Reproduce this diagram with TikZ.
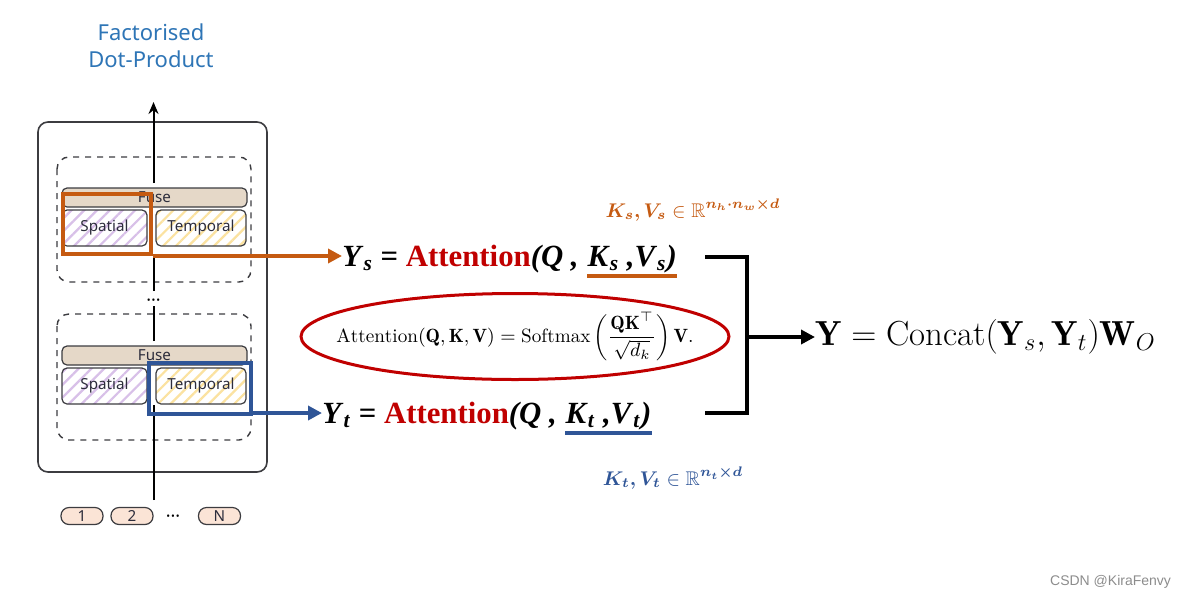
\RequirePackage{fix-cm}
\documentclass[tikz,border=0pt]{standalone}
\usepackage{fontspec}
\usepackage{amsmath,amssymb,bm}
\usetikzlibrary{arrows.meta, positioning, calc, patterns.meta}
\newfontfamily\lblfont{Noto Sans}
\newfontfamily\eqfont{Liberation Serif}
\newfontfamily\markfont{Liberation Sans}
\definecolor{ttlC}    {RGB}{ 46, 117, 182}
\definecolor{spselC}  {RGB}{197,  90,  17}
\definecolor{tpselC}  {RGB}{ 47,  85, 151}
\definecolor{attC}    {RGB}{192,   0,   0}
\definecolor{fuseC}   {RGB}{229, 216, 200}
\definecolor{tokC}    {RGB}{251, 228, 214}
\definecolor{spC}     {RGB}{216, 192, 232}
\definecolor{tpC}     {RGB}{251, 226, 160}
\definecolor{lineC}   {RGB}{ 60,  60,  64}
\definecolor{lblC}    {RGB}{ 45,  45,  60}

\begin{document}
\begin{tikzpicture}[x=0.5pt, y=-0.5pt,
  blk/.style={draw=lineC, line width=0.6pt, rounded corners=2.5pt, inner sep=0pt,
    font=\lblfont\fontsize{7.6}{9}\selectfont, text=lblC},
  spblk/.style={blk, minimum width=42.5pt, minimum height=18pt, preaction={fill=white},
    pattern={Lines[angle=45, distance=4.5pt, line width=1.1pt]}, pattern color=spC},
  tpblk/.style={blk, minimum width=45pt, minimum height=18pt, preaction={fill=white},
    pattern={Lines[angle=45, distance=4.5pt, line width=1.1pt]}, pattern color=tpC},
  fuseblk/.style={blk, fill=fuseC, minimum width=92.5pt, minimum height=9.5pt},
  tok/.style={blk, fill=tokC, rounded corners=4pt, minimum width=21pt, minimum height=8.5pt},
  dotlbl/.style={font=\lblfont\bfseries\fontsize{9}{9}\selectfont, inner sep=0pt},
  eqtxt/.style={font=\eqfont\bfseries\fontsize{15.4}{18}\selectfont, inner sep=0pt},
  brk/.style={line width=2pt, black}
]
\useasboundingbox (0,0) rectangle (1192,600);

% ============================================================
% LEFT — factorised dot-product encoder block
% ============================================================

% Title
\node[font=\lblfont\fontsize{11}{13.5}\selectfont, text=ttlC, align=center]
  (title) at (151,46) {Factorised\\Dot-Product};

% Outer box and layer boxes
\draw[lineC, line width=0.8pt, rounded corners=5pt] (38,122) rectangle (267,472);
\draw[lineC, line width=0.7pt, dashed, rounded corners=6pt] (57,157) rectangle (251,282);
\draw[lineC, line width=0.7pt, dashed, rounded corners=6pt] (57,314) rectangle (251,440);

% Backbone
\coordinate (bbot) at (153.5,500);
\coordinate (btop) at (153.5,102);
\draw[black, line width=1pt] (bbot) -- (153.5,405);
\draw[black, line width=1pt] (153.5,341) -- (153.5,306);
\draw[black, line width=1pt] (153.5,291) -- (153.5,255);
\draw[black, line width=1pt, -{Stealth[length=6pt, width=5pt]}] (153.5,183) -- (btop);
\node[dotlbl] (vdots) at (153.5,303) {···};

% Upper layer
\node[fuseblk] (fuseA) at (154.5,197.5) {Fuse};
\node[spblk]   (spA)   at (104.5,228) {Spatial};
\node[tpblk]   (tpA)   at (201,228) {Temporal};

% Lower layer
\node[fuseblk] (fuseB) at (154.5,355.5) {Fuse};
\node[spblk]   (spB)   at (104.5,386) {Spatial};
\node[tpblk]   (tpB)   at (201,386) {Temporal};

% Input tokens
\foreach \x/\lbl/\nm in {82/1/tokA, 132/2/tokB, 219.5/N/tokN}{
  \node[tok] (\nm) at (\x,516) {\lbl};
}
\node[dotlbl] (hdots) at (173,519) {···};

% Selections
\node[draw=spselC, line width=2pt, minimum width=44pt, minimum height=30pt, inner sep=0pt]
  (spsel) at (107,224) {};
\node[draw=tpselC, line width=2pt, minimum width=51pt, minimum height=25.5pt, inner sep=0pt]
  (tpsel) at (200,388.5) {};

% ============================================================
% MIDDLE — attention equations
% ============================================================

% Spatial attention
\node[eqtxt, anchor=base west] (ysl) at (342,266)
  {\textit{Y}\textsubscript{\textit{s}} = \textcolor{attC}{Attention}\textit{(Q ,}};
\node[eqtxt, anchor=base west] (ysk) at ($(ysl.base east)+(8,0)$)
  {\textit{K}\textsubscript{\textit{s}}\textit{ ,V}\textsubscript{\textit{s}}\textit{)}};
\draw[spselC, line width=2pt] ($(ysk.south west)+(0,3)$) -- ($(ysk.south east)+(0,3)$);
\node[font=\fontsize{9.9}{12}\selectfont, text=spselC] (kslbl) at (693,210)
  {$\bm{K_s, V_s} \in \mathbb{R}^{\bm{n_h\cdot n_w\times d}}$};

% Temporal attention
\node[eqtxt, anchor=base west] (ytl) at (322,423)
  {\textit{Y}\textsubscript{\textit{t}} = \textcolor{attC}{Attention}\textit{(Q ,}};
\node[eqtxt, anchor=base west] (ytk) at ($(ytl.base east)+(8,0)$)
  {\textit{K}\textsubscript{\textit{t}}\textit{ ,V}\textsubscript{\textit{t}}\textit{)}};
\draw[tpselC, line width=2pt] ($(ytk.south west)+(0,3)$) -- ($(ytk.south east)+(0,3)$);
\node[font=\fontsize{9.9}{12}\selectfont, text=tpselC] (ktlbl) at (673,478)
  {$\bm{K_t, V_t} \in \mathbb{R}^{\bm{n_t\times d}}$};

% Selection arrows
\draw[spselC, line width=2pt, -{Triangle[length=7pt, width=7pt]}]
  (spsel.south east) -- (spsel.south east -| ysl.west);
\draw[tpselC, line width=2pt, -{Triangle[length=7pt, width=7pt]}]
  ($(tpsel.south east)+(0,-3)$) -- ($(tpsel.south east -| ytl.west)+(0,-3)$);

% Scaled dot-product attention
\node[font=\fontsize{9.6}{11}\selectfont, inner sep=0pt] (attf) at (515,336.5)
  {$\displaystyle \mathrm{Attention}(\mathbf{Q},\mathbf{K},\mathbf{V})
    = \mathrm{Softmax}\left(\frac{\mathbf{Q}\mathbf{K}^{\top}}{\sqrt{d_k}}\right)\mathbf{V}.$};
\draw[attC, line width=1.5pt] (attf.center) ellipse [x radius=107pt, y radius=21.5pt];

% ============================================================
% RIGHT — concatenation
% ============================================================
\coordinate (brtop) at (747,257);
\coordinate (brbot) at (747,413);
\draw[brk] (705,257) -- (brtop) -- (brbot) -- (705,413);

\node[font=\fontsize{17.4}{20}\selectfont, anchor=west, inner sep=0pt] (yfin) at (815,337)
  {$\mathbf{Y} = \mathrm{Concat}(\mathbf{Y}_s, \mathbf{Y}_t)\mathbf{W}_O$};
\draw[brk, -{Triangle[length=7pt, width=7pt]}] (brtop |- yfin.west) -- (yfin.west);

% Watermark
\node[font=\markfont\fontsize{7}{8}\selectfont, text=black!45, anchor=east]
  (mark) at (1178,582) {CSDN @KiraFenvy};

\end{tikzpicture}
\end{document}
